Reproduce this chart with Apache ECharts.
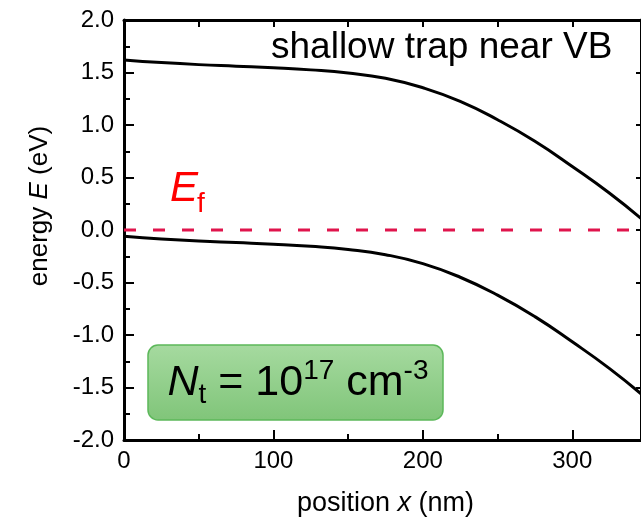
<!DOCTYPE html>
<html>
<head>
<meta charset="utf-8">
<script src="https://cdn.jsdelivr.net/npm/echarts@6/dist/echarts.min.js"></script>
<style>
  html, body { margin: 0; padding: 0; background: #fff; }
  #chart { width: 641px; height: 522px; }
</style>
</head>
<body>
<div id="chart"></div>
<script>
// Band edges across the device (position in nm, energy in eV)
const posX = [0, 25, 50, 75, 100, 125, 150, 175, 200, 225, 250, 275, 300, 325, 346];
const cbE = [1.62, 1.595, 1.575, 1.56, 1.545, 1.525, 1.495, 1.445, 1.355, 1.225, 1.05, 0.845, 0.605, 0.35, 0.11];
const vbE = [-0.06, -0.085, -0.105, -0.12, -0.135, -0.155, -0.185, -0.235, -0.32, -0.45, -0.62, -0.825, -1.065, -1.32, -1.56];
// Fermi level
const efX = [0, 346];
const efE = [0, 0];

const xTicks = [0, 100, 200, 300];
const yTicks = [-2.0, -1.5, -1.0, -0.5, 0.0, 0.5, 1.0, 1.5, 2.0];

const FONT = '"Liberation Sans", Arial, Helvetica, sans-serif';
const pairs = (xs, ys) => xs.map((x, i) => [x, ys[i]]);

const chart = echarts.init(document.getElementById('chart'), null, { renderer: 'canvas' });

const axisLine = { show: true, onZero: false, lineStyle: { color: '#000', width: 3 } };

chart.setOption({
  animation: false,
  backgroundColor: '#fff',
  grid: { left: 124, top: 20, width: 519, height: 420, containLabel: false },
  xAxis: [
    {
      type: 'value', position: 'bottom', min: 0, max: 346, interval: 100,
      axisLine: axisLine,
      axisTick: { show: true, inside: true, length: 10, lineStyle: { color: '#000', width: 2 },
                  customValues: xTicks },
      minorTick: { show: true, splitNumber: 2, length: 6, lineStyle: { color: '#000', width: 2 } },
      splitLine: { show: false },
      axisLabel: { color: '#000', fontSize: 24, fontFamily: FONT, margin: 9,
                   customValues: xTicks, formatter: v => String(v) },
      name: 'position {i|x} (nm)', nameLocation: 'middle', nameGap: 50,
      nameTextStyle: { color: '#000', fontSize: 27, fontFamily: FONT, padding: [0, 0, 0, 6],
                       rich: { i: { fontStyle: 'italic', fontSize: 27, fontFamily: FONT, color: '#000' } } }
    },
    {
      type: 'value', position: 'top', min: 0, max: 346, interval: 50,
      axisLine: axisLine,
      axisTick: { show: true, inside: true, length: 7, lineStyle: { color: '#000', width: 2 } },
      axisLabel: { show: false }, splitLine: { show: false }
    }
  ],
  yAxis: [
    {
      type: 'value', position: 'left', min: -2, max: 2, interval: 0.5,
      axisLine: axisLine,
      axisTick: { show: true, inside: true, length: 10, lineStyle: { color: '#000', width: 2 } },
      minorTick: { show: true, splitNumber: 2, length: 6, lineStyle: { color: '#000', width: 2 } },
      splitLine: { show: false },
      axisLabel: { color: '#000', fontSize: 24, fontFamily: FONT, margin: 10,
                   customValues: yTicks, formatter: v => v.toFixed(1) }
    },
    {
      type: 'value', position: 'right', min: -2, max: 2, interval: 0.5,
      axisLine: axisLine,
      axisTick: { show: true, inside: true, length: 5, lineStyle: { color: '#000', width: 2 } },
      axisLabel: { show: false }, splitLine: { show: false }
    }
  ],
  series: [
    {
      name: 'Ef', type: 'line', data: pairs(efX, efE), showSymbol: false, silent: true,
      lineStyle: { color: '#e0144c', width: 3, type: [12, 17] }, z: 2
    },
    {
      name: 'CB', type: 'line', data: pairs(posX, cbE), smooth: 0.5, showSymbol: false,
      lineStyle: { color: '#000', width: 3 }, z: 3
    },
    {
      name: 'VB', type: 'line', data: pairs(posX, vbE), smooth: 0.5, showSymbol: false,
      lineStyle: { color: '#000', width: 3 }, z: 3
    }
  ],
  graphic: [
    // y-axis title
    {
      type: 'text', x: 40, y: 206, rotation: Math.PI / 2, z: 10,
      style: {
        text: 'energy {i|E} (eV)', align: 'center', verticalAlign: 'middle',
        font: '26px ' + FONT, fill: '#000',
        rich: { i: { fontStyle: 'italic', fontSize: 26, fontFamily: FONT, color: '#000' } }
      }
    },
    {
      type: 'text', left: 271, top: 29, z: 10,
      style: { text: 'shallow trap near VB', font: '37px ' + FONT, fill: '#000' }
    },
    // Fermi level label
    {
      type: 'text', x: 170, y: 189, z: 10,
      style: { text: 'E', font: 'italic 42px ' + FONT, fill: '#ff0000', align: 'left', verticalAlign: 'middle' }
    },
    {
      type: 'text', x: 197, y: 204, z: 10,
      style: { text: 'f', font: '28px ' + FONT, fill: '#ff0000', align: 'left', verticalAlign: 'middle' }
    },
    {
      type: 'group', x: 148, y: 345, z: 10,
      children: [
        {
          type: 'rect', shape: { x: 0, y: 0, width: 295, height: 75, r: 10 },
          style: {
            fill: { type: 'linear', x: 0, y: 0, x2: 0, y2: 1,
                    colorStops: [{ offset: 0, color: '#a6daa0' }, { offset: 1, color: '#80c579' }] },
            stroke: '#5cb85a', lineWidth: 1.5
          }
        },
        {
          type: 'text', x: 150, y: 38,
          style: {
            text: '{n|N}{s|t}{m| = 10}{p|17}{m| cm}{p|-3}',
            align: 'center', verticalAlign: 'middle',
            rich: {
              n: { fontSize: 43, fontStyle: 'italic', fontFamily: FONT, color: '#000', lineHeight: 52 },
              m: { fontSize: 43, fontFamily: FONT, color: '#000', lineHeight: 52 },
              s: { fontSize: 28, fontFamily: FONT, color: '#000', lineHeight: 28, verticalAlign: 'bottom' },
              p: { fontSize: 28, fontFamily: FONT, color: '#000', lineHeight: 28, verticalAlign: 'top' }
            }
          }
        }
      ]
    }
  ]
});
</script>
</body>
</html>
